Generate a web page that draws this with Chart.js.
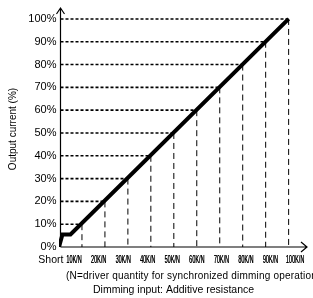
<!DOCTYPE html>
<html lang="en">
<head>
  <meta charset="UTF-8" />
  <title>Dimming curve</title>
  <script src="https://cdn.jsdelivr.net/npm/chart.js"></script>
  <style>
    body {
      margin: 0;
      padding: 0;
      background: #fff;
    }
    #chart {
      display: block;
    }
  </style>
</head>
<body>
  <canvas id="chart" width="313" height="298"></canvas>

  <script>
    // data
    const curveX = [0, 1.5, 5, 100];        // K ohm per driver
    const curveY = [0, 5.5, 5.5, 100];      // output current %
    const yTicks = [0, 10, 20, 30, 40, 50, 60, 70, 80, 90, 100];
    const dropX = [10, 20, 30, 40, 50, 60, 70, 80, 90, 100];
    const dropY = [10, 20, 30, 40, 50, 60, 70, 80, 90, 100];
    const xTickLabels = ['10K/N', '20K/N', '30K/N', '40K/N', '50K/N', '60K/N', '70K/N', '80K/N', '90K/N', '100K/N'];
    const firstLabel = 'Short';
    const yTitle = 'Output current (%)';
    const noteText = '(N=driver quantity for synchronized dimming operation)';
    const xTitle = 'Dimming input: Additive resistance';

    const FONT = '"Liberation Sans", Arial, sans-serif';

    const axesPlugin = {
      id: 'axesPlugin',
      beforeDatasetsDraw(chart) {
        const ctx = chart.ctx;
        const xs = chart.scales.x, ys = chart.scales.y;
        const x0 = xs.getPixelForValue(0) + 1.5;
        const y0 = ys.getPixelForValue(0);
        ctx.save();
        ctx.strokeStyle = '#000';
        // drop lines
        dropX.forEach((v, i) => {
          const px = xs.getPixelForValue(v);
          const py = ys.getPixelForValue(dropY[i]);
          ctx.lineWidth = 1.6;
          ctx.setLineDash([3, 2]);
          ctx.beginPath();
          ctx.moveTo(x0, py);
          ctx.lineTo(px, py);
          ctx.stroke();
          ctx.lineWidth = 1;
          ctx.setLineDash([6, 4]);
          ctx.beginPath();
          ctx.moveTo(px, py);
          ctx.lineTo(px, y0);
          ctx.stroke();
        });
        ctx.restore();
      },
      afterDraw(chart) {
        const ctx = chart.ctx;
        const xs = chart.scales.x, ys = chart.scales.y, xl = chart.scales.xl;
        const area = chart.chartArea;
        const x0 = xs.getPixelForValue(0) + 1.5;
        const y0 = ys.getPixelForValue(0);
        ctx.save();
        ctx.strokeStyle = '#000';
        ctx.lineWidth = 1.2;
        ctx.setLineDash([]);
        // axes with arrows
        ctx.beginPath();
        ctx.moveTo(x0, y0);
        ctx.lineTo(x0, area.top);
        ctx.moveTo(x0 - 4, area.top + 6);
        ctx.lineTo(x0, area.top);
        ctx.lineTo(x0 + 4, area.top + 6);
        ctx.moveTo(x0, y0);
        ctx.lineTo(area.right, y0);
        ctx.moveTo(area.right - 6, y0 - 5);
        ctx.lineTo(area.right, y0);
        ctx.lineTo(area.right - 6, y0 + 5);
        ctx.stroke();

        ctx.fillStyle = '#000';
        // y tick labels
        ctx.font = '11px ' + FONT;
        ctx.textAlign = 'right';
        ctx.textBaseline = 'middle';
        yTicks.forEach(v => {
          ctx.fillText(v + '%', x0 - 4, ys.getPixelForValue(v));
        });

        // x tick labels (condensed)
        const ly = y0 + 13;
        ctx.font = '10.5px ' + FONT;
        ctx.textAlign = 'right';
        ctx.fillText(firstLabel, xl.getPixelForValue(0) + 14, ly);
        ctx.textAlign = 'center';
        xTickLabels.forEach((t, i) => {
          const px = xl.getPixelForValue(dropX[i]);
          ctx.save();
          ctx.translate(px, ly);
          ctx.scale(0.55, 1);
          ctx.font = '10px ' + FONT;
          ctx.fillText(t, 0, 0);
          ctx.fillText(t, 0.4, 0);
          ctx.restore();
        });

        // notes
        ctx.font = '10px ' + FONT;
        ctx.textAlign = 'left';
        ctx.letterSpacing = '0.2px';
        ctx.fillText(noteText, 66, y0 + 29);
        ctx.letterSpacing = '0px';
        ctx.font = '10.5px ' + FONT;
        ctx.fillText(xTitle, 93, y0 + 43);

        // y title
        ctx.font = '10px ' + FONT;
        ctx.translate(13, 129);
        ctx.rotate(-Math.PI / 2);
        ctx.textAlign = 'center';
        ctx.fillText(yTitle, 0, 0);
        ctx.restore();
      }
    };

    window.onload = () => {
      const ctx = document.getElementById('chart').getContext('2d');
      new Chart(ctx, {
        type: 'scatter',
        data: {
          datasets: [{
            data: curveX.map((x, i) => ({ x: x, y: curveY[i] })),
            showLine: true,
            borderColor: '#000',
            borderWidth: 4,
            pointRadius: 0,
            tension: 0,
            borderJoinStyle: 'miter'
          }]
        },
        options: {
          responsive: false,
          animation: false,
          layout: { padding: { left: 59, top: 8, right: 6, bottom: 51 } },
          plugins: {
            legend: { display: false },
            tooltip: { enabled: false }
          },
          scales: {
            x: { type: 'linear', min: 0, max: 108, display: false },
            xl: { type: 'linear', axis: 'x', min: 3.9, max: 104.9, display: false },
            y: { type: 'linear', min: 0, max: 104.8, display: false }
          }
        },
        plugins: [axesPlugin]
      });
    };
  </script>
</body>
</html>
